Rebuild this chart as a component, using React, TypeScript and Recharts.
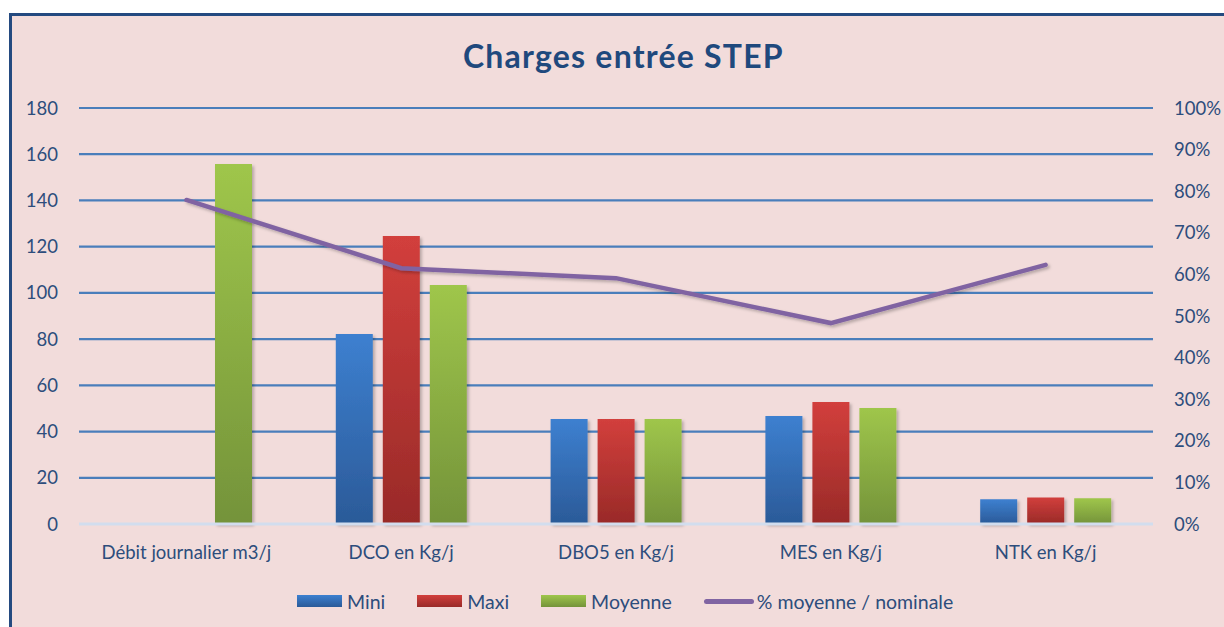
import React from "react";
import { ComposedChart, Bar, Line, XAxis, YAxis, CartesianGrid } from "recharts";

const categories = [
  "Débit journalier m3/j",
  "DCO en Kg/j",
  "DBO5 en Kg/j",
  "MES en Kg/j",
  "NTK en Kg/j",
];
const mini: (number | null)[] = [null, 82.2, 45.4, 46.7, 10.7];
const maxi: (number | null)[] = [null, 124.6, 45.4, 52.8, 11.5];
const moyenne: number[] = [155.8, 103.4, 45.4, 50.2, 11.1];
const pctNominale: number[] = [0.779, 0.615, 0.591, 0.483, 0.623];
const leftTicks = [0, 20, 40, 60, 80, 100, 120, 140, 160, 180];
const rightTicks = [0, 0.1, 0.2, 0.3, 0.4, 0.5, 0.6, 0.7, 0.8, 0.9, 1];
const seriesNames = ["Mini", "Maxi", "Moyenne", "% moyenne / nominale"];
const title = "Charges entrée STEP";

const data = categories.map((c, i) => ({
  name: c,
  mini: mini[i],
  maxi: maxi[i],
  moyenne: moyenne[i],
  pct: pctNominale[i],
}));

const FONT = "Lato, 'Open Sans', sans-serif";
const TEXT = "#2d4d7c";
const grads = [
  { id: "gBlue", top: "#3d80d0", bottom: "#2b5a98" },
  { id: "gRed", top: "#d23f3c", bottom: "#992a28" },
  { id: "gGreen", top: "#9fc64b", bottom: "#74933a" },
];

const LegendSwatch = ({ i }: { i: number }) => {
  if (i < 3) {
    const g = grads[i];
    return (
      <div
        style={{
          width: 45,
          height: 12,
          background: `linear-gradient(${g.top}, ${g.bottom})`,
          marginRight: 5,
        }}
      />
    );
  }
  return (
    <div
      style={{
        width: 50,
        height: 5,
        borderRadius: 3,
        background: "#8064a2",
        marginRight: 3,
      }}
    />
  );
};

export default function App() {
  return (
    <div style={{ position: "absolute", left: 0, top: 0, width: 1224, height: 627, background: "#fff", overflow: "hidden" }}>
      <div
        style={{
          position: "absolute",
          left: 9,
          top: 13,
          width: 1230,
          height: 640,
          background: "#f2dcdb",
          borderTop: "3px solid #244a80",
          borderLeft: "3px solid #244a80",
        }}
      />
      <div
        style={{
          position: "absolute",
          left: 463,
          top: 36,
          whiteSpace: "nowrap",
          fontFamily: FONT,
          fontWeight: 700,
          fontSize: 32,
          letterSpacing: 1.2,
          color: "#1f497d",
          lineHeight: "40px",
        }}
      >
        {title}
      </div>
      <div style={{ position: "absolute", left: 0, top: 0 }}>
        <ComposedChart
          width={1224}
          height={627}
          data={data}
          margin={{ top: 108, right: 0, bottom: 63, left: 0 }}
          barSize={37}
          barGap={10}
        >
          <defs>
            {grads.map((g) => (
              <linearGradient key={g.id} id={g.id} x1="0" y1="0" x2="0" y2="1">
                <stop offset="0%" stopColor={g.top} />
                <stop offset="100%" stopColor={g.bottom} />
              </linearGradient>
            ))}
            <filter id="shadow" x="-20%" y="-20%" width="140%" height="140%">
              <feDropShadow dx="2" dy="2" stdDeviation="1.5" floodColor="#000" floodOpacity="0.25" />
            </filter>
          </defs>
          <CartesianGrid yAxisId="left" vertical={false} stroke="#4a7ebb" strokeWidth={2.2} />
          <XAxis
            dataKey="name"
            axisLine={{ stroke: "#d2ddee", strokeWidth: 3 }}
            tickLine={false}
            tickSize={6}
            tickMargin={16}
            height={40}
            interval={0}
            tick={{ fill: TEXT, fontSize: 18.5, fontFamily: FONT }}
          />
          <YAxis
            yAxisId="left"
            domain={[0, 180]}
            ticks={leftTicks}
            width={79}
            axisLine={false}
            tickLine={false}
            tickSize={6}
            tickMargin={15}
            tick={{ fill: TEXT, fontSize: 18.5, fontFamily: FONT }}
          />
          <YAxis
            yAxisId="right"
            orientation="right"
            domain={[0, 1]}
            ticks={rightTicks}
            width={71}
            axisLine={false}
            tickLine={false}
            tickSize={6}
            tickMargin={15}
            tickFormatter={(v: number) => `${Math.round(v * 100)}%`}
            tick={{ fill: TEXT, fontSize: 18.5, fontFamily: FONT, textAnchor: "start" }}
          />
          <Bar yAxisId="left" dataKey="mini" name={seriesNames[0]} fill="url(#gBlue)" filter="url(#shadow)" isAnimationActive={false} />
          <Bar yAxisId="left" dataKey="maxi" name={seriesNames[1]} fill="url(#gRed)" filter="url(#shadow)" isAnimationActive={false} />
          <Bar yAxisId="left" dataKey="moyenne" name={seriesNames[2]} fill="url(#gGreen)" filter="url(#shadow)" isAnimationActive={false} />
          <Line
            yAxisId="right"
            dataKey="pct"
            name={seriesNames[3]}
            type="linear"
            stroke="#8064a2"
            strokeWidth={4.5}
            strokeLinecap="round"
            dot={false}
            activeDot={false}
            filter="url(#shadow)"
            isAnimationActive={false}
          />
        </ComposedChart>
      </div>
      <div
        style={{
          position: "absolute",
          left: 297,
          top: 589,
          height: 24,
          display: "flex",
          alignItems: "center",
          fontFamily: FONT,
          fontSize: 19.5,
          color: TEXT,
        }}
      >
        {seriesNames.map((n, i) => (
          <div key={n} style={{ display: "flex", alignItems: "center", marginRight: i === 3 ? 0 : 32 }}>
            <LegendSwatch i={i} />
            <span>{n}</span>
          </div>
        ))}
      </div>
    </div>
  );
}
